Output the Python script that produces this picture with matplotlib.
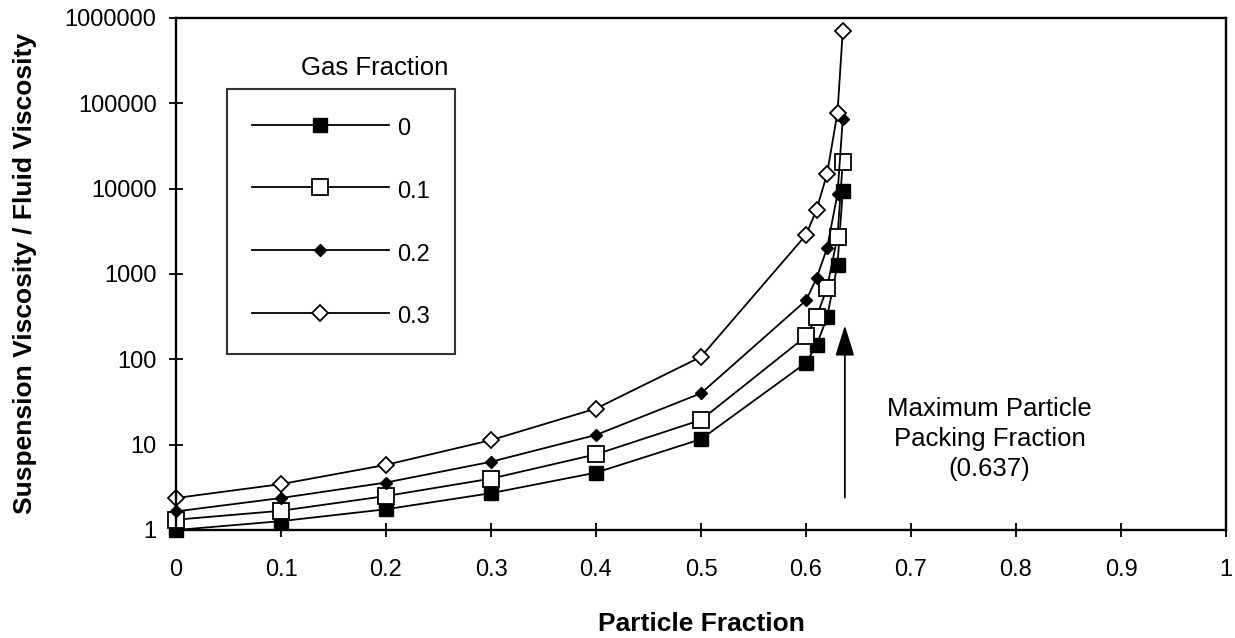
import matplotlib
matplotlib.use("Agg")
import matplotlib.pyplot as plt
from matplotlib.ticker import FixedLocator, FixedFormatter, NullLocator

plt.rcParams['font.family'] = ['Liberation Sans', 'DejaVu Sans']

# particle fraction
phi = [0, 0.1, 0.2, 0.3, 0.4, 0.5, 0.6, 0.61, 0.62, 0.63, 0.635]

# relative viscosity per gas fraction
visc_g0 = [1.0, 1.27, 1.75, 2.7, 4.7, 11.6, 91, 146, 310, 1280, 9300]
visc_g01 = [1.32, 1.68, 2.5, 4.0, 7.7, 19.5, 186, 315, 680, 2750, 20500]
visc_g02 = [1.65, 2.37, 3.6, 6.3, 13, 40, 490, 890, 2000, 8700, 65000]
visc_g03 = [2.37, 3.45, 5.8, 11.3, 26.5, 107, 2870, 5650, 14800, 78000, 700000]

gas_labels = ['0', '0.1', '0.2', '0.3']
y_ticks = [1, 10, 100, 1000, 10000, 100000, 1000000]
x_ticks = [0, 0.1, 0.2, 0.3, 0.4, 0.5, 0.6, 0.7, 0.8, 0.9, 1]
x_ticklabels = ['0', '0.1', '0.2', '0.3', '0.4', '0.5', '0.6', '0.7', '0.8', '0.9', '1']
max_packing = 0.637

W, H = 1235, 638
fig = plt.figure(figsize=(W / 100, H / 100), dpi=100)
ax = fig.add_axes([176 / W, 1 - 530 / H, 1050 / W, 512 / H])

styles = [
    dict(marker='s', mfc='black', mec='black', ms=10),
    dict(marker='s', mfc='white', mec='black', ms=12, mew=1.3),
    dict(marker='D', mfc='black', mec='black', ms=6.3),
    dict(marker='D', mfc='white', mec='black', ms=8.2, mew=1.3),
]
series = [visc_g0, visc_g01, visc_g02, visc_g03]
handles = []
for vals, st, lab in zip(series, styles, gas_labels):
    h, = ax.plot(phi, vals, color='black', lw=1.3, label=lab, clip_on=False, **st)
    handles.append(h)

ax.set_yscale('log')
ax.set_xlim(0, 1)
ax.set_ylim(1, 1000000)
ax.yaxis.set_major_locator(FixedLocator(y_ticks))
ax.yaxis.set_major_formatter(FixedFormatter([str(v) for v in y_ticks]))
ax.yaxis.set_minor_locator(NullLocator())
ax.set_xticks(x_ticks)
ax.set_xticklabels(x_ticklabels)
ax.tick_params(direction='inout', length=10, width=1.3, labelsize=17)
ax.tick_params(axis='x', pad=16)
ax.tick_params(axis='y', pad=9)
for s in ax.spines.values():
    s.set_linewidth(1.7)

ax.set_xlabel('Particle Fraction', fontsize=19, fontweight='bold', labelpad=22)
ax.set_ylabel('Suspension Viscosity / Fluid Viscosity', fontsize=19,
              fontweight='bold', labelpad=20)

leg = ax.legend(handles=handles, loc='upper left',
                bbox_to_anchor=(227 / W, 1 - 89 / H), bbox_transform=fig.transFigure,
                handlelength=5.8, handleheight=1.4, fontsize=17, frameon=True,
                fancybox=False, borderpad=1.05, labelspacing=1.5,
                handletextpad=0.35, borderaxespad=0)
leg.get_frame().set_edgecolor('black')
leg.get_frame().set_linewidth(1.5)
fig.text(375 / W, 1 - 68 / H, 'Gas Fraction', fontsize=18.5, ha='center', va='center')

ax.annotate('', xy=(max_packing, 250), xytext=(max_packing, 2.4),
            arrowprops=dict(arrowstyle='-|>,head_length=1.35,head_width=0.42',
                            color='black', lw=1.3, mutation_scale=14,
                            shrinkA=0, shrinkB=0))
ax.text(0.775, 0.178, 'Maximum Particle\nPacking Fraction\n(0.637)',
        transform=ax.transAxes, fontsize=18.5, ha='center', va='center',
        linespacing=1.3)

fig.savefig('out.png', dpi=100)
